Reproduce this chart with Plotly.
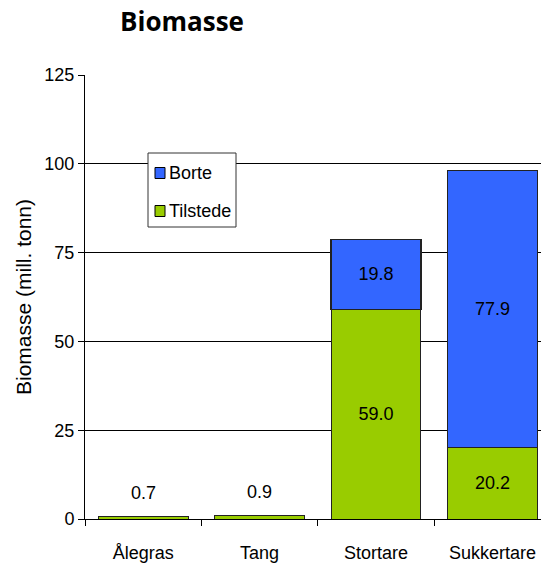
import plotly.graph_objects as go

# Biomass per species, split into what remains and what is gone (million tonnes)
species = ["Ålegras", "Tang", "Stortare", "Sukkertare"]
tilstede = [0.7, 0.9, 59.0, 20.2]
borte = [None, None, 19.8, 77.9]
y_ticks = [0, 25, 50, 75, 100, 125]
legend_items = [("Borte", "#3366FF"), ("Tilstede", "#99CC00")]

GREEN = "#99CC00"
BLUE = "#3366FF"
FONT = "Liberation Sans, Arial"
FS = 18

# plot area in pixels, used to place the hand-drawn legend
PX_L, PX_R, PX_T, PX_B = 85, 541, 75, 519


def px_x(px):
    return (px - PX_L) / (PX_R - PX_L)


def px_y(py):
    return (PX_B - py) / (PX_B - PX_T)


def inside_text(vals, min_val=5):
    return [f"{v:.1f}" if v is not None and v >= min_val else "" for v in vals]


fig = go.Figure()
fig.add_trace(go.Bar(
    x=species, y=tilstede, name="Tilstede",
    marker=dict(color=GREEN, line=dict(color="#222222", width=1)),
    text=inside_text(tilstede), textposition="inside",
    insidetextanchor="middle", textangle=0,
    textfont=dict(family=FONT, size=FS, color="#000000"),
))
fig.add_trace(go.Bar(
    x=species, y=borte, name="Borte",
    marker=dict(color=BLUE, line=dict(color="#222222", width=1.2)),
    text=inside_text(borte), textposition="inside",
    insidetextanchor="middle", textangle=0,
    textfont=dict(family=FONT, size=FS, color="#000000"),
))

# Small values are labelled above their bars
for sp, t, b in zip(species, tilstede, borte):
    total = t + (b or 0)
    if total < 5:
        fig.add_annotation(
            x=sp, y=total, text=f"{total:.1f}", showarrow=False,
            yanchor="bottom", yshift=12,
            font=dict(family=FONT, size=FS, color="#000000"),
        )

# Legend box with coloured swatches
shapes = [dict(
    type="rect", xref="paper", yref="paper",
    x0=px_x(148), x1=px_x(236), y0=px_y(227), y1=px_y(153),
    line=dict(color="#333333", width=1), fillcolor="#FFFFFF", layer="above",
)]
for i, (name, color) in enumerate(legend_items):
    cy = 173 + 38 * i
    shapes.append(dict(
        type="rect", xref="paper", yref="paper",
        x0=px_x(155), x1=px_x(165), y0=px_y(cy + 5.5), y1=px_y(cy - 5.5),
        line=dict(color="#000000", width=1), fillcolor=color, layer="above",
    ))
    fig.add_annotation(
        xref="paper", yref="paper", x=px_x(167), y=px_y(cy),
        xanchor="left", yanchor="middle", text=name, showarrow=False,
        font=dict(family=FONT, size=FS, color="#000000"),
    )

fig.update_layout(
    width=541, height=566,
    margin=dict(l=PX_L, r=541 - PX_R, t=PX_T, b=566 - PX_B),
    paper_bgcolor="#FFFFFF", plot_bgcolor="#FFFFFF",
    barmode="stack", bargap=0.227,
    font=dict(family=FONT, size=FS, color="#000000"),
    title=dict(
        text="<b>Biomasse</b>", x=182 / 541, xanchor="center",
        y=1 - 22 / 566, yanchor="middle",
        font=dict(family="Open Sans", size=26, color="#000000"),
    ),
    showlegend=False,
    shapes=shapes,
)

fig.update_xaxes(
    range=[-0.5, -0.5 + (PX_R - PX_L) / 116.4],
    showline=True, linecolor="#000000", linewidth=1,
    ticks="outside", tickson="boundaries", ticklen=6, tickcolor="#000000",
    showgrid=False, tickfont=dict(family=FONT, size=FS),
    ticklabelstandoff=17,
)
fig.update_yaxes(
    range=[0, 125], tickvals=y_ticks,
    showline=True, linecolor="#000000", linewidth=1,
    ticks="outside", ticklen=6, tickcolor="#000000",
    showgrid=True, gridcolor="#000000", gridwidth=1,
    zeroline=False,
    title=dict(text="Biomasse (mill. tonn)",
               font=dict(family=FONT, size=21), standoff=7),
    tickfont=dict(family=FONT, size=FS),
)

fig.write_html("out.html")
